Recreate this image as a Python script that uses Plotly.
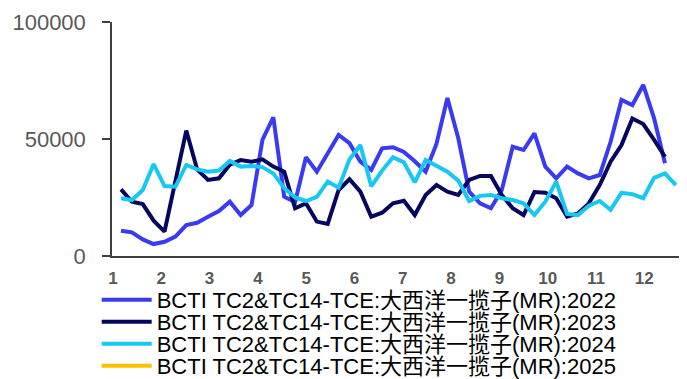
import plotly.graph_objects as go

# Weekly values, one list per year
y2022 = [10800, 10100, 7100, 5100, 6100, 8300, 13200, 14200, 16800, 19200,
         23200, 17500, 21800, 49600, 59300, 25300, 23000, 42200, 36000, 44000,
         51700, 48200, 40300, 36800, 46000, 46500, 44500, 40500, 36000, 48000,
         67500, 50300, 27500, 22500, 20400, 28200, 46700, 45300, 52400, 38200,
         33200, 38200, 35300, 33200, 34600, 48800, 66700, 64500, 73100, 58800, 39600]
y2023 = [28500, 23200, 22200, 15100, 10400, 32000, 53600, 37000, 32500, 33200,
         39000, 41000, 40300, 41300, 38200, 36000, 20400, 22500, 14700, 13700,
         28200, 32800, 27500, 16800, 18500, 22500, 23600, 17500, 26100, 30300,
         27500, 26100, 32500, 34200, 34200, 26100, 20400, 17500, 27300, 27000,
         24700, 16800, 18200, 22500, 30300, 40300, 47400, 58800, 56400, 49600, 42400]
y2024 = [24700, 23900, 28200, 39300, 29900, 29600, 38900, 37000, 36000, 36500,
         40600, 38200, 38500, 38000, 35300, 29000, 25000, 23500, 25300, 31800,
         29200, 41300, 47400, 29800, 36500, 42200, 40000, 31500, 41000, 38700,
         36000, 32200, 23500, 25700, 26100, 24700, 23900, 22500, 17500, 23200,
         31800, 18000, 17500, 21500, 23500, 19700, 27000, 26400, 24700, 33400,
         35300, 30300]
y2025 = [None]

month_labels = [str(m) for m in range(1, 13)]
years = ["2022", "2023", "2024", "2025"]
colors = ["#3A3AF4", "#06065E", "#16C8F2", "#FFC000"]
series = [y2022, y2023, y2024, y2025]

name_prefix = "BCTI TC2&TC14-TCE:大西洋一揽子(MR):"
FONT = "Liberation Sans, Arial, Noto Sans CJK SC"

fig = go.Figure()
legend_ids = ["legend", "legend2", "legend3", "legend4"]
for yr, col, vals, lg in zip(years, colors, series, legend_ids):
    fig.add_trace(go.Scatter(
        x=list(range(1, len(vals) + 1)),
        y=vals,
        mode="lines",
        name=name_prefix + yr,
        line=dict(color=col, width=4),
        legend=lg,
        showlegend=True,
    ))

# axis geometry (in week units)
week_px = 10.88
first_px_off = 9.0           # first point sits 9px right of the axis
month_w = 48.3 / week_px
m1 = 1 + (113 - 121) / week_px
tickvals = [m1 + i * month_w for i in range(12)]
x0 = 1 - first_px_off / week_px
x1 = 1 + (679 - 121) / week_px

legend_common = dict(
    xanchor="left", yanchor="middle",
    font=dict(size=22, family=FONT, color="#000000"),
    bgcolor="rgba(0,0,0,0)", borderwidth=0, itemwidth=50,
    visible=True,
)
row_y = [300, 322, 344, 366]
layout_legends = {}
for lg, py in zip(legend_ids, row_y):
    layout_legends[lg] = dict(legend_common, x=-0.027, y=(256 - py) / 234)

fig.update_layout(
    width=687, height=379,
    showlegend=True,
    margin=dict(l=112, r=8, t=22, b=123, autoexpand=False),
    paper_bgcolor="white", plot_bgcolor="white",
    font=dict(family=FONT),
    xaxis=dict(
        range=[x0, x1], tickvals=tickvals, ticktext=month_labels,
        showline=True, linecolor="#404040", linewidth=1.5,
        ticks="", showgrid=False, zeroline=False,
        tickfont=dict(size=17, color="#595959", family=FONT, weight="bold"),
        ticklabelstandoff=6,
    ),
    yaxis=dict(
        range=[0, 100000], tickvals=[0, 50000, 100000],
        ticktext=["0", "50000", "100000"],
        showline=True, linecolor="#404040", linewidth=1.5,
        ticks="outside", ticklen=8, tickcolor="#404040", tickwidth=1.5,
        showgrid=False, zeroline=False,
        tickfont=dict(size=22, color="#595959", family=FONT),
        ticklabelstandoff=12,
    ),
    **layout_legends,
)

fig.write_html("out.html")
